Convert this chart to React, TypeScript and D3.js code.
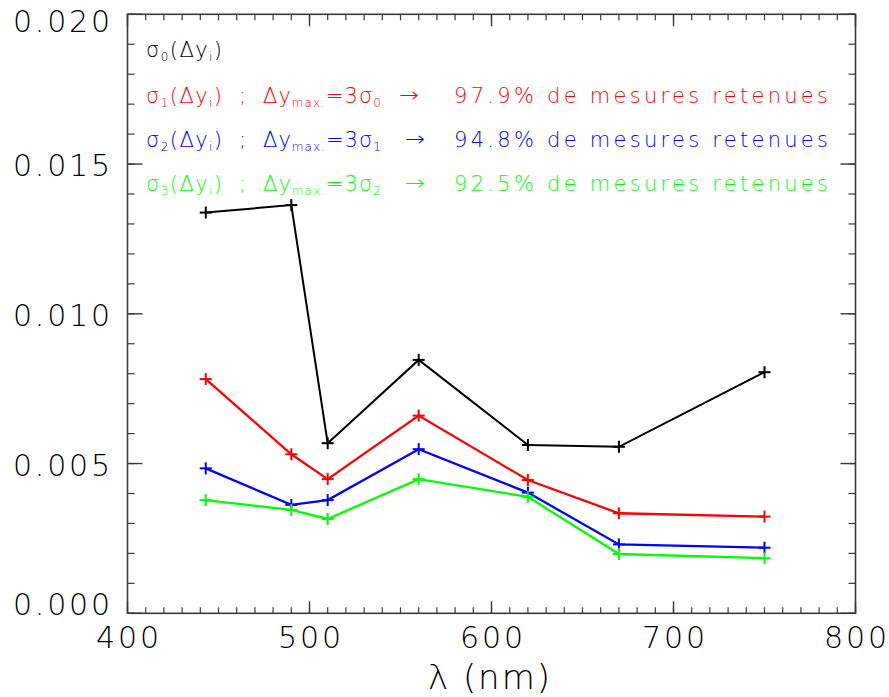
import React from "react";
import * as d3 from "d3";

const wavelengths = [443, 490, 510, 560, 620, 670, 750];
const sigma0 = [0.01338, 0.01363, 0.00568, 0.00846, 0.00562, 0.00556, 0.00805];
const sigma1 = [0.00782, 0.00531, 0.00448, 0.0066, 0.00445, 0.00334, 0.00323];
const sigma2 = [0.00484, 0.00362, 0.00378, 0.00548, 0.00403, 0.0023, 0.00219];
const sigma3 = [0.00378, 0.00345, 0.00315, 0.00448, 0.00389, 0.00198, 0.00184];
const seriesColors = ["#000000", "#ff0000", "#0000ff", "#00ff00"];
const percents = ["97.9%", "94.8%", "92.5%"];
const yTickLabels = ["0.000", "0.005", "0.010", "0.015", "0.020"];
const xTickLabels = ["400", "500", "600", "700", "800"];

const W = 889;
const H = 697;
const FONT = "'DejaVu Sans ExtraLight', 'DejaVu Sans Light', 'DejaVu Sans', sans-serif";

export default function App() {
  const x = d3.scaleLinear().domain([400, 800]).range([127.5, 855.5]);
  const y = d3.scaleLinear().domain([0, 0.02]).range([613.3, 14.3]);
  const [x0, x1] = x.range();
  const [yb, yt] = y.range();
  const line = d3
    .line<[number, number]>()
    .x((d) => x(d[0]))
    .y((d) => y(d[1]));
  const allSeries = [sigma0, sigma1, sigma2, sigma3];
  const axisColor = "#3a3a3a";

  const yMinor = d3.range(0, 21).map((i) => i * 0.001);
  const xMinor = d3.range(0, 41).map((i) => 400 + i * 10);
  const yMajor = y.ticks(4);
  const xMajor = x.ticks(4);

  const legendBaselines = [57, 103, 147, 191];
  const subSize = 12;

  return (
    <svg
      width={W}
      height={H}
      style={{ position: "absolute", left: 0, top: 0, background: "#fff" }}
      fontFamily={FONT}
      fontWeight={200}
    >
      <rect x={0} y={0} width={W} height={H} fill="#fff" />
      {yMinor.map((v, i) => (
        <g key={"ym" + i} stroke={axisColor} strokeWidth={1.2}>
          <line x1={x0} x2={x0 + 7} y1={y(v)} y2={y(v)} />
          <line x1={x1} x2={x1 - 7} y1={y(v)} y2={y(v)} />
        </g>
      ))}
      {xMinor.map((v, i) => (
        <g key={"xm" + i} stroke={axisColor} strokeWidth={1.2}>
          <line x1={x(v)} x2={x(v)} y1={yb} y2={yb - 6} />
          <line x1={x(v)} x2={x(v)} y1={yt} y2={yt + 6} />
        </g>
      ))}
      {yMajor.map((v, i) => (
        <g key={"yM" + i} stroke={axisColor} strokeWidth={1.4}>
          <line x1={x0} x2={x0 + 15} y1={y(v)} y2={y(v)} />
          <line x1={x1} x2={x1 - 15} y1={y(v)} y2={y(v)} />
        </g>
      ))}
      {xMajor.map((v, i) => (
        <g key={"xM" + i} stroke={axisColor} strokeWidth={1.4}>
          <line x1={x(v)} x2={x(v)} y1={yb} y2={yb - 12} />
          <line x1={x(v)} x2={x(v)} y1={yt} y2={yt + 12} />
        </g>
      ))}
      <rect
        x={x0}
        y={yt}
        width={x1 - x0}
        height={yb - yt}
        fill="none"
        stroke={axisColor}
        strokeWidth={1.6}
      />
      {yMajor.map((v, i) => {
        let base = y(v) + 12;
        if (i === 0) base = 615;
        if (i === yMajor.length - 1) base = 32;
        return (
          <text
            key={"yl" + i}
            x={13}
            y={base}
            fontSize={30}
            textLength={97}
            lengthAdjust="spacing"
            fill="#000"
          >
            {yTickLabels[i]}
          </text>
        );
      })}
      {xMajor.map((v, i) => (
        <text
          key={"xl" + i}
          x={x(v) - 31.5}
          y={648}
          fontSize={30}
          textLength={63}
          lengthAdjust="spacing"
          fill="#000"
        >
          {xTickLabels[i]}
        </text>
      ))}
      <text x={428} y={689} fontSize={34} textLength={122} lengthAdjust="spacing" fill="#000">
        λ (nm)
      </text>

      {allSeries.map((s, si) => {
        const pts = wavelengths.map((w, j) => [w, s[j]] as [number, number]);
        return (
          <g key={"s" + si}>
            <path d={line(pts) || ""} fill="none" stroke={seriesColors[si]} strokeWidth={si === 0 ? 2 : 2.3} />
            {pts.map((p, j) => (
              <g key={j} stroke={seriesColors[si]} strokeWidth={2}>
                <line x1={x(p[0]) - 6} x2={x(p[0]) + 6} y1={y(p[1])} y2={y(p[1])} />
                <line x1={x(p[0])} x2={x(p[0])} y1={y(p[1]) - 6} y2={y(p[1]) + 6} />
              </g>
            ))}
          </g>
        );
      })}

      <text x={146} y={legendBaselines[0]} fontSize={21} fill="#000" textLength={76} lengthAdjust="spacing">
        σ<tspan fontSize={subSize} dy={4}>0</tspan>
        <tspan dy={-4}>(Δy</tspan>
        <tspan fontSize={subSize} dy={4}>i</tspan>
        <tspan dy={-4}>)</tspan>
      </text>
      {[1, 2, 3].map((k) => {
        const b = legendBaselines[k];
        const c = seriesColors[k];
        return (
          <g key={"lg" + k} fill={c}>
            <text x={146} y={b} fontSize={21} textLength={76} lengthAdjust="spacing">
              σ<tspan fontSize={subSize} dy={4}>{k}</tspan>
              <tspan dy={-4}>(Δy</tspan>
              <tspan fontSize={subSize} dy={4}>i</tspan>
              <tspan dy={-4}>)</tspan>
            </text>
            <text x={239} y={b} fontSize={21}>
              ;
            </text>
            <text x={263} y={b} fontSize={21} textLength={118} lengthAdjust="spacing">
              Δy<tspan fontSize={subSize} dy={4}>max.</tspan>
              <tspan dy={-4}>=3σ</tspan>
              <tspan fontSize={subSize} dy={4}>{k - 1}</tspan>
            </text>
            <text x={k === 1 ? 399 : 405} y={b - 1} fontSize={20} textLength={20} lengthAdjust="spacingAndGlyphs">
              →
            </text>
            <text x={454} y={b} fontSize={21} textLength={374} lengthAdjust="spacing">
              {percents[k - 1]} de mesures retenues
            </text>
          </g>
        );
      })}
    </svg>
  );
}
